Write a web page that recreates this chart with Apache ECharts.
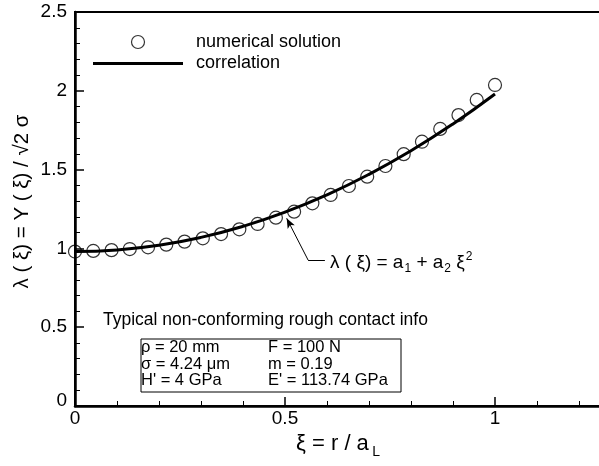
<!DOCTYPE html>
<html>
<head>
<meta charset="utf-8">
<script src="https://cdn.jsdelivr.net/npm/echarts@6/dist/echarts.min.js"></script>
<style>
  html, body { margin: 0; padding: 0; background: #fff; }
  #chart { width: 599px; height: 466px; }
</style>
</head>
<body>
<div id="chart"></div>
<script>
// numerical solution, xi = r / a_L
const xiNum = [0, 0.0435, 0.087, 0.1304, 0.1739, 0.2174, 0.2609, 0.3043, 0.3478, 0.3913,
  0.4348, 0.4783, 0.5217, 0.5652, 0.6087, 0.6522, 0.6957, 0.7391, 0.7826, 0.8261,
  0.8696, 0.913, 0.9565, 1];
const lambdaNum = [0.980, 0.984, 0.989, 0.996, 1.007, 1.024, 1.043, 1.064, 1.091, 1.121,
  1.155, 1.195, 1.233, 1.286, 1.339, 1.396, 1.455, 1.523, 1.598, 1.677,
  1.758, 1.846, 1.942, 2.037];

// correlation curve
const xiFit = [0, 0.1, 0.2, 0.3, 0.4, 0.5, 0.6, 0.7, 0.8, 0.9, 1];
const lambdaFit = [0.98, 0.99, 1.02, 1.07, 1.14, 1.23, 1.34, 1.47, 1.62, 1.79, 1.98];

// arrow pointing at the curve (data coords)
const leader = [[0.595, 0.926], [0.555, 0.926], [0.504, 1.191]];

const infoLeft = ['ρ = 20 mm', 'σ = 4.24 μm', "H' = 4 GPa"];
const infoRight = ['F = 100 N', 'm = 0.19', "E' = 113.74 GPa"];

const FONT = 'Liberation Sans, Arial, sans-serif';

const chart = echarts.init(document.getElementById('chart'), null, { renderer: 'canvas' });

const numData = xiNum.map((x, i) => [x, lambdaNum[i]]);
const fitData = xiFit.map((x, i) => [x, lambdaFit[i]]);

const option = {
  animation: false,
  backgroundColor: '#fff',
  textStyle: { fontFamily: FONT, color: '#000' },
  // grid runs past the right edge of the window, like the original
  grid: {
    left: 75, top: 12, width: 630, height: 394,
    outerBoundsMode: 'none',
    containLabel: false,
    show: true, borderColor: '#000', borderWidth: 2, backgroundColor: 'transparent'
  },
  legend: {
    orient: 'vertical',
    left: 93, top: 32,
    padding: 0,
    itemWidth: 90, itemHeight: 13, itemGap: 1.5,
    textStyle: { fontFamily: FONT, fontSize: 18, color: '#000', lineHeight: 20, padding: [0, 0, 0, 8] },
    data: [
      { name: 'numerical solution', itemStyle: { borderWidth: 1.2, borderColor: '#000', color: 'rgba(0,0,0,0)' } },
      { name: 'correlation', icon: 'path://M0,0L30,0L30,1L0,1Z', itemStyle: { color: '#000', borderWidth: 0 } }
    ]
  },
  xAxis: {
    type: 'value', min: 0, max: 1.5, interval: 0.5,
    name: '{n|ξ = r / a} {s|L}',
    nameLocation: 'middle', nameGap: 23,
    nameTextStyle: {
      padding: [0, 104, 0, 0],
      rich: {
        n: { fontFamily: FONT, fontSize: 22, color: '#000' },
        s: { fontFamily: FONT, fontSize: 14, color: '#000', padding: [16, 0, 0, 0] }
      }
    },
    axisLine: { show: true, onZero: false, lineStyle: { color: '#000', width: 2.5 } },
    axisTick: { show: true, inside: true, length: 9, lineStyle: { color: '#000', width: 1.5 } },
    minorTick: { show: true, splitNumber: 5, length: 5, lineStyle: { color: '#000', width: 1 } },
    splitLine: { show: false },
    axisLabel: { fontFamily: FONT, fontSize: 19, color: '#000', margin: 3 }
  },
  yAxis: {
    type: 'value', min: 0, max: 2.5, interval: 0.5,
    name: 'λ ( ξ) = Y ( ξ) / √2 σ',
    nameLocation: 'middle', nameGap: 42, nameRotate: 90,
    nameMoveOverlap: false,
    nameTextStyle: { fontFamily: FONT, fontSize: 20.5, color: '#000', padding: [0, 0, 0, 15] },
    axisLine: { show: true, onZero: false, lineStyle: { color: '#000', width: 2.5 } },
    axisTick: { show: true, inside: true, length: 9, lineStyle: { color: '#000', width: 1.5 } },
    minorTick: { show: true, splitNumber: 5, length: 5, lineStyle: { color: '#000', width: 1 } },
    splitLine: { show: false },
    axisLabel: {
      fontFamily: FONT, fontSize: 19, color: '#000', margin: 8,
      formatter: v => (v === 0 ? '{z|0}' : String(v)),
      rich: { z: { fontFamily: FONT, fontSize: 19, color: '#000', padding: [0, 0, 10, 0] } }
    }
  },
  series: [
    {
      name: 'numerical solution',
      type: 'scatter',
      symbol: 'circle',
      symbolSize: 13,
      itemStyle: { color: 'rgba(0,0,0,0)', borderColor: '#000', borderWidth: 1.2 },
      data: numData,
      z: 2
    },
    {
      name: 'correlation',
      type: 'line',
      smooth: true,
      symbol: 'none',
      itemStyle: { color: '#000' },
      lineStyle: { color: '#000', width: 3 },
      data: fitData,
      z: 3,
      markLine: {
        silent: true,
        symbol: 'none',
        label: { show: false },
        lineStyle: { color: '#000', width: 1, type: 'solid' },
        data: [
          [{ coord: leader[0], symbol: 'none' }, { coord: leader[1], symbol: 'none' }],
          [{ coord: leader[1], symbol: 'none' }, { coord: leader[2], symbol: 'arrow', symbolSize: [6, 10] }]
        ]
      }
    }
  ],
  graphic: [
    {
      type: 'text', left: 330, top: 251,
      style: {
        text: '{t|λ ( ξ) = a}{s|1}{t| + a}{s|2}{t| ξ}{p|2}',
        rich: {
          t: { fontFamily: FONT, fontSize: 19, fill: '#000' },
          s: { fontFamily: FONT, fontSize: 12, fill: '#000', padding: [12, 0, 0, 1] },
          p: { fontFamily: FONT, fontSize: 12, fill: '#000', padding: [0, 0, 12, 1] }
        }
      }
    },
    {
      type: 'text', left: 103, top: 311,
      style: { text: 'Typical non-conforming rough contact info', font: '17.5px ' + FONT, fill: '#000' }
    },
    {
      type: 'rect', left: 138.5, top: 336.5,
      shape: { width: 260, height: 53 },
      style: { fill: 'none', stroke: '#000', lineWidth: 1 }
    },
    {
      type: 'text', left: 141, top: 339,
      style: { text: infoLeft.join('\n'), font: '16.5px ' + FONT, lineHeight: 16.5, fill: '#000' }
    },
    {
      type: 'text', left: 268, top: 339,
      style: { text: infoRight.join('\n'), font: '16.5px ' + FONT, lineHeight: 16.5, fill: '#000' }
    }
  ]
};

chart.setOption(option);
</script>
</body>
</html>
